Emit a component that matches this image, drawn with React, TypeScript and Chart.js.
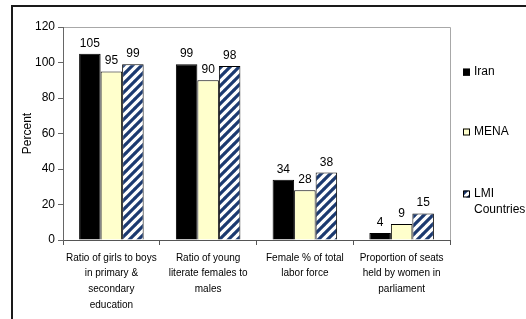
import React, { useEffect, useRef } from "react";
import { Chart, registerables } from "chart.js";
Chart.register(...registerables);

const categories: string[][] = [
  ["Ratio of girls to boys", "in primary &", "secondary", "education"],
  ["Ratio of young", "literate females to", "males"],
  ["Female % of total", "labor force"],
  ["Proportion of seats", "held by women in", "parliament"],
];
const seriesNames = ["Iran", "MENA", "LMI Countries"];
const legendLines: string[][] = [["Iran"], ["MENA"], ["LMI", "Countries"]];
const iranValues = [105, 99, 34, 4];
const menaValues = [95, 90, 28, 9];
const lmiValues = [99, 98, 38, 15];
const yMin = 0;
const yMax = 120;
const yStep = 20;

const FONT = "'Liberation Sans', Arial, sans-serif";

function makeStripePattern(): CanvasPattern | string {
  const c = document.createElement("canvas");
  c.width = 9;
  c.height = 9;
  const x = c.getContext("2d");
  if (!x) return "#1f3a6e";
  x.fillStyle = "#ffffff";
  x.fillRect(0, 0, 9, 9);
  x.strokeStyle = "#1c3a70";
  x.lineWidth = 3.2;
  x.beginPath();
  for (const k of [-9, 0, 9]) {
    x.moveTo(k - 1, 10);
    x.lineTo(k + 10, -1);
  }
  x.stroke();
  const p = x.createPattern(c, "repeat");
  return p || "#1f3a6e";
}

export default function App() {
  const ref = useRef<HTMLCanvasElement>(null);
  useEffect(() => {
    if (!ref.current) return;
    const stripe = makeStripePattern();
    const fills = ["#000000", "#ffffcc", stripe];

    const framePlugin = {
      id: "frame",
      beforeDraw(chart: any) {
        const ctx = chart.ctx;
        ctx.save();
        ctx.fillStyle = "#ffffff";
        ctx.fillRect(0, 0, chart.width, chart.height);
        ctx.strokeStyle = "#1a1a1a";
        ctx.lineWidth = 2;
        ctx.strokeRect(12, 6, chart.width + 40, chart.height + 40);
        const a = chart.chartArea;
        ctx.strokeStyle = "#a8a8a8";
        ctx.lineWidth = 1;
        ctx.beginPath();
        ctx.moveTo(a.left, a.top + 0.5);
        ctx.lineTo(a.right + 0.5, a.top + 0.5);
        ctx.lineTo(a.right + 0.5, a.bottom);
        ctx.stroke();
        ctx.restore();
      },
    };

    const labelPlugin = {
      id: "valueLabels",
      afterDatasetsDraw(chart: any) {
        const ctx = chart.ctx;
        ctx.save();
        ctx.font = `12px ${FONT}`;
        ctx.fillStyle = "#000";
        ctx.textAlign = "center";
        ctx.textBaseline = "alphabetic";
        chart.data.datasets.forEach((ds: any, i: number) => {
          const meta = chart.getDatasetMeta(i);
          meta.data.forEach((bar: any, j: number) => {
            ctx.fillText(String(ds.data[j]), bar.x, bar.y - 7);
          });
        });
        ctx.restore();
      },
    };

    const legendPlugin = {
      id: "sideLegend",
      afterDraw(chart: any) {
        const ctx = chart.ctx;
        const a = chart.chartArea;
        const h = a.bottom - a.top;
        const centers = [a.top + h * 0.212, a.top + h * 0.493, a.top + h * 0.784];
        const bx = a.right + 13;
        ctx.save();
        ctx.font = `12px ${FONT}`;
        ctx.textAlign = "left";
        ctx.textBaseline = "middle";
        legendLines.forEach((lines, i) => {
          const cy = centers[i];
          ctx.fillStyle = fills[i] as any;
          ctx.fillRect(bx, cy - 3.5, 7, 7);
          ctx.strokeStyle = "#000";
          ctx.lineWidth = 1;
          ctx.strokeRect(bx + 0.5, cy - 3, 6, 6);
          ctx.fillStyle = "#000";
          lines.forEach((t, k) => {
            ctx.fillText(t, bx + 11, cy + k * 16);
          });
        });
        ctx.restore();
      },
    };

    const chart = new Chart(ref.current, {
      type: "bar",
      data: {
        labels: categories,
        datasets: [iranValues, menaValues, lmiValues].map((vals, i) => ({
          label: seriesNames[i],
          data: vals,
          backgroundColor: fills[i] as any,
          borderColor: "#000000",
          borderWidth: 1,
          categoryPercentage: 0.667,
          barPercentage: 1,
        })),
      },
      options: {
        responsive: false,
        animation: false,
        events: [],
        layout: { padding: { left: 12, right: 76, top: 27, bottom: 0 } },
        plugins: {
          legend: { display: false },
          tooltip: { enabled: false },
          title: { display: false },
        },
        scales: {
          x: {
            grid: {
              offset: true,
              drawOnChartArea: false,
              drawTicks: true,
              tickLength: 5,
              color: "#555555",
            },
            border: { display: true, color: "#555555", width: 1 },
            ticks: {
              autoSkip: false,
              maxRotation: 0,
              minRotation: 0,
              padding: 5,
              color: "#000",
              font: { family: FONT, size: 10, lineHeight: 1.57 },
            },
            afterFit(scale: any) {
              scale.height = 79;
            },
          },
          y: {
            min: yMin,
            max: yMax,
            ticks: {
              stepSize: yStep,
              padding: 3,
              color: "#000",
              font: { family: FONT, size: 12 },
            },
            grid: {
              drawOnChartArea: false,
              drawTicks: true,
              tickLength: 5,
              color: "#666666",
            },
            border: { display: true, color: "#666666", width: 1 },
            title: {
              display: true,
              text: "Percent",
              color: "#000",
              font: { family: FONT, size: 12 },
              padding: { top: 8, bottom: 0 },
            },
            afterFit(scale: any) {
              scale.width = 51;
            },
          },
        },
      },
      plugins: [framePlugin, labelPlugin, legendPlugin],
    });
    return () => chart.destroy();
  }, []);

  return (
    <div style={{ position: "fixed", left: 0, top: 0, width: 526, height: 319 }}>
      <canvas ref={ref} width={526} height={319} style={{ display: "block" }} />
    </div>
  );
}
